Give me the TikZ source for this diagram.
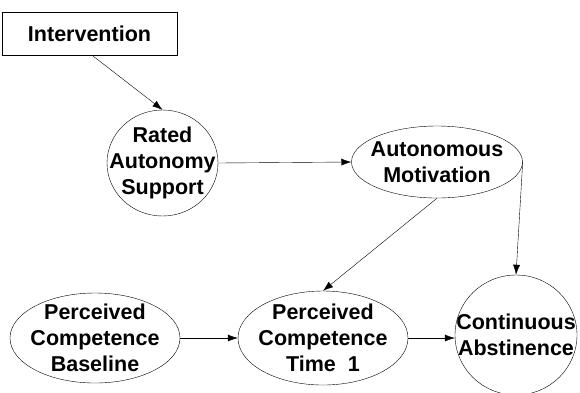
\documentclass[tikz,border=0pt]{standalone}
\usepackage{fontspec}
\setmainfont{Liberation Sans}
\usetikzlibrary{shapes.geometric,arrows.meta}

\tikzset{
  lbl/.style={font=\fontsize{21.5}{26}\selectfont\bfseries,align=center},
  var/.style={ellipse,draw,thin,inner sep=0pt},
  box/.style={rectangle,draw,thin,lbl,inner sep=0pt},
  path/.style={-{Latex[length=10pt,width=7pt]},thin}
}

\begin{document}
\begin{tikzpicture}[x=1pt,y=-1pt]
\useasboundingbox (0,0) rectangle (580,392);

% exogenous input
\node[box,minimum width=175pt,minimum height=43pt] (intv) at (89.5,33.5) {Intervention};

% latent variables (fixed outline, text set as a centred label)
\node[var,minimum width=111pt,minimum height=106pt,
  label={[lbl]center:Rated\\Autonomy\\Support}] (ras) at (162.5,163) {};
\node[var,minimum width=171pt,minimum height=72pt,
  label={[lbl]center:Autonomous\\Motivation}] (am) at (437,162) {};
\node[var,minimum width=170pt,minimum height=90pt,
  label={[lbl]center:Perceived\\Competence\\Baseline}] (pcb) at (95,338) {};
\node[var,minimum width=170pt,minimum height=94pt,
  label={[lbl]center:Perceived\\Competence\\Time~~1}] (pct) at (323,338) {};
\node[var,minimum width=122pt,minimum height=120pt,
  label={[lbl]center:Continuous\\Abstinence}] (ca) at (516,335) {};

% paths
\draw[path] (intv.south) ++(2.5,0) -- (ras.north);
\draw[path] (ras.east) -- (am.west);
\draw[path] (am.south) -- (pct.north);
\draw[path] (am.east) -- (ca.north);
\draw[path] (pcb.east) -- (pct.west);
\draw[path] (pct.east) -- (pct.east -| ca.west);

\end{tikzpicture}
\end{document}
